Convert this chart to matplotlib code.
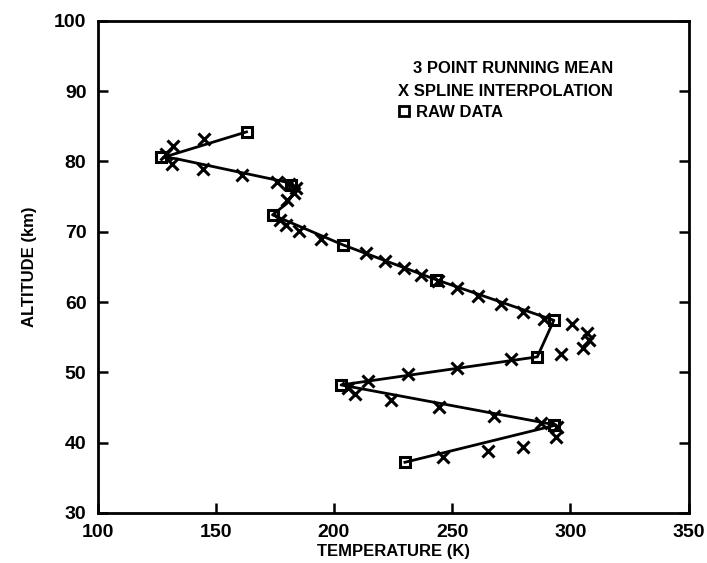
import matplotlib
matplotlib.use('Agg')
import matplotlib.pyplot as plt

# raw data (squares)
raw_T = [163, 127, 182, 174, 204, 243, 293, 286, 203, 293, 230]
raw_alt = [84.2, 80.6, 76.6, 72.4, 68.1, 63.2, 57.4, 52.2, 48.2, 42.5, 37.2]

# spline interpolation (x markers)
spl_T = [145, 132, 129, 131.5, 144.5, 161, 176, 181, 184, 183, 180, 177, 179.5, 185,
         194.5, 213.5, 221.5, 229.5, 237, 244, 252, 261, 270.5, 280, 289, 300.5, 307,
         308, 305.5, 296, 275, 252, 231.5, 214.5, 206, 209, 224, 244.5, 267.5, 287.5,
         294.5, 294, 280, 265, 246]
spl_alt = [83.2, 82.2, 81.0, 79.6, 78.9, 78.1, 77.1, 76.8, 76.2, 75.5, 74.5, 71.7, 71.0, 70.1,
           68.9, 67.0, 65.9, 64.9, 63.9, 63.0, 62.0, 60.9, 59.7, 58.6, 57.6, 56.9, 55.6,
           54.6, 53.5, 52.6, 51.9, 50.6, 49.8, 48.8, 47.8, 46.9, 46.1, 45.0, 43.8, 42.8,
           42.2, 40.8, 39.4, 38.8, 38.0]

# 3 point running mean (line)
mean_T = [163, 128, 133, 182, 184, 180, 174, 204, 243, 293, 286, 203, 294, 230]
mean_alt = [84.2, 80.6, 80.4, 76.9, 76.0, 74.0, 72.4, 68.1, 63.2, 57.4, 52.2, 48.2, 42.5, 37.2]

plt.rcParams['font.family'] = ['Liberation Sans', 'DejaVu Sans']
plt.rcParams['font.weight'] = 'bold'

fig = plt.figure(figsize=(7.07, 5.63), dpi=100)
ax = fig.add_axes([0.138, 0.089, 0.836, 0.874])

ax.plot(mean_T, mean_alt, color='black', lw=2.0, zorder=2)
ax.plot(spl_T, spl_alt, 'x', color='black', ms=9, mew=2.2, zorder=3)
ax.plot(raw_T, raw_alt, 's', mfc='none', mec='black', ms=7, mew=2.2, zorder=3)

ax.set_xlim(100, 350)
ax.set_ylim(30, 100)
ax.set_xticks([100, 150, 200, 250, 300, 350])
ax.set_yticks([30, 40, 50, 60, 70, 80, 90, 100])
ax.tick_params(direction='in', length=7, width=1.8, labelsize=14, pad=8)
ax.tick_params(axis='y', right=True)
for s in ax.spines.values():
    s.set_linewidth(2)

ax.set_xlabel('TEMPERATURE (K)', fontsize=12, fontweight='bold', labelpad=2)
ax.set_ylabel('ALTITUDE (km)', fontsize=12, fontweight='bold', labelpad=12)

ax.text(233.5, 93.2, '3 POINT RUNNING MEAN', fontsize=12, fontweight='bold', va='center')
ax.text(227, 90.0, 'X SPLINE INTERPOLATION', fontsize=12, fontweight='bold', va='center')
# open square drawn as a marker so it matches the plotted raw data squares
ax.plot([229.5], [87.15], 's', mfc='none', mec='black', ms=7, mew=2.0)
ax.text(234.5, 86.9, 'RAW DATA', fontsize=12, fontweight='bold', va='center')

fig.savefig('out.png', dpi=100)
